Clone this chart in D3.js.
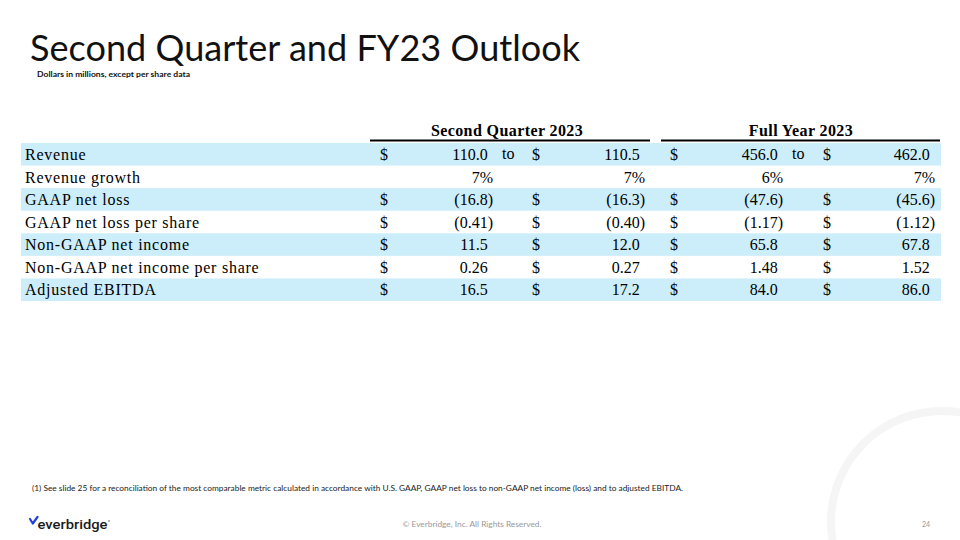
<!DOCTYPE html>
<html>
<head>
<meta charset="utf-8">
<script src="https://cdn.jsdelivr.net/npm/d3@7"></script>
<style>
  html, body { margin: 0; padding: 0; background: #fff; }
  svg { display: block; }
</style>
</head>
<body>
<svg id="chart" width="960" height="540"></svg>
<script>
// ---------------- DATA ----------------
const title = "Second Quarter and FY23 Outlook";
const subtitle = "Dollars in millions, except per share data";
const groupHeaders = ["Second Quarter 2023", "Full Year 2023"];
const rowLabels = [
  "Revenue",
  "Revenue growth",
  "GAAP net loss",
  "GAAP net loss per share",
  "Non-GAAP net income",
  "Non-GAAP net income per share",
  "Adjusted EBITDA"
];
const rowFormats = ["money1", "pct", "money1", "money2", "money1", "money2", "money1"];
const q2Low  = [110.0, 0.07, -16.8, -0.41, 11.5, 0.26, 16.5];
const q2High = [110.5, 0.07, -16.3, -0.40, 12.0, 0.27, 17.2];
const fyLow  = [456.0, 0.06, -47.6, -1.17, 65.8, 1.48, 84.0];
const fyHigh = [462.0, 0.07, -45.6, -1.12, 67.8, 1.52, 86.0];
const rangeWord = "to";
const footnote = "(1) See slide 25 for a reconciliation of the most comparable metric calculated in accordance with U.S. GAAP, GAAP net loss to non-GAAP net income (loss) and to adjusted EBITDA.";
const copyright = "© Everbridge, Inc. All Rights Reserved.";
const pageNumber = "24";
const brand = "everbridge";

// ---------------- RENDER ----------------
const svg = d3.select("#chart");
const W = 960, H = 540;
svg.append("rect").attr("width", W).attr("height", H).attr("fill", "#ffffff");

// decorative ring bottom-right
svg.append("circle")
  .attr("cx", 942).attr("cy", 522).attr("r", 111)
  .attr("fill", "none").attr("stroke", "#f5f5f5").attr("stroke-width", 8);

// title
svg.append("text")
  .attr("x", 30).attr("y", 61)
  .attr("font-family", "Lato, 'Open Sans', sans-serif")
  .attr("font-size", 37)
  .attr("fill", "#111")
  .attr("textLength", 550).attr("lengthAdjust", "spacingAndGlyphs")
  .text(title);

svg.append("text")
  .attr("x", 37).attr("y", 76.5)
  .attr("font-family", "Lato, 'Open Sans', sans-serif")
  .attr("font-size", 8).attr("font-weight", "bold")
  .attr("fill", "#111")
  .attr("textLength", 153).attr("lengthAdjust", "spacingAndGlyphs")
  .text(subtitle);

// table
const serif = "'Liberation Serif', 'Times New Roman', Times, serif";
const y = d3.scaleBand().domain(d3.range(rowLabels.length)).range([143, 301]).paddingInner(0);
const tableLeft = 21, tableRight = 941;

// column layout: dollar sign x, value right edge
const columns = [
  { values: q2Low,  dollar: 380, edge: 493, to: 502 },
  { values: q2High, dollar: 532, edge: 645 },
  { values: fyLow,  dollar: 670, edge: 783, to: 792 },
  { values: fyHigh, dollar: 823, edge: 935 }
];

const fmt1 = d3.format(".1f"), fmt2 = d3.format(".2f"), fmtPct = d3.format(".0%");
function formatValue(v, kind) {
  if (kind === "pct") return fmtPct(v);
  const f = kind === "money2" ? fmt2 : fmt1;
  return v < 0 ? "(" + f(-v) + ")" : f(v);
}

// bands
svg.append("g").selectAll("rect")
  .data(rowLabels.map((d, i) => i).filter(i => i % 2 === 0))
  .join("rect")
  .attr("x", tableLeft).attr("width", tableRight - tableLeft)
  .attr("y", i => y(i)).attr("height", y.bandwidth())
  .attr("fill", "#ccedfa");

// group headers
const headerCenters = [507, 801];
const headerLines = [[370, 650], [661, 940]];
svg.append("g").selectAll("text")
  .data(groupHeaders)
  .join("text")
  .attr("x", (d, i) => headerCenters[i]).attr("y", 136)
  .attr("text-anchor", "middle")
  .attr("font-family", serif).attr("font-size", 16).attr("font-weight", "bold")
  .attr("letter-spacing", 0.4)
  .attr("fill", "#000")
  .text(d => d);
svg.append("g").selectAll("line")
  .data(headerLines)
  .join("line")
  .attr("x1", d => d[0]).attr("x2", d => d[1])
  .attr("y1", 140.5).attr("y2", 140.5)
  .attr("stroke", "#000").attr("stroke-width", 2);

// row labels
const textY = i => y(i) + 17;
svg.append("g").selectAll("text")
  .data(rowLabels)
  .join("text")
  .attr("x", 25).attr("y", (d, i) => textY(i))
  .attr("font-family", serif).attr("font-size", 16)
  .attr("letter-spacing", 0.75)
  .attr("fill", "#000")
  .text(d => d);

// values
columns.forEach(col => {
  const g = svg.append("g");
  rowLabels.forEach((lab, i) => {
    const kind = rowFormats[i];
    if (kind !== "pct") {
      g.append("text")
        .attr("x", col.dollar).attr("y", textY(i))
        .attr("font-family", serif).attr("font-size", 16).attr("fill", "#000")
        .text("$");
    }
    const v = col.values[i];
    const s = formatValue(v, kind);
    const padded = kind !== "pct" && v >= 0;
    g.append("text")
      .attr("x", col.edge - (padded ? 5.3 : 0)).attr("y", textY(i))
      .attr("text-anchor", "end")
      .attr("font-family", serif).attr("font-size", 16).attr("fill", "#000")
      .text(s);
    if (i === 0 && col.to !== undefined) {
      g.append("text")
        .attr("x", col.to).attr("y", textY(i) - 1)
        .attr("font-family", serif).attr("font-size", 16).attr("fill", "#000")
        .text(rangeWord);
    }
  });
});

// footnote
svg.append("text")
  .attr("x", 32).attr("y", 491)
  .attr("font-family", "Lato, 'Open Sans', sans-serif")
  .attr("font-size", 7.5).attr("fill", "#222")
  .attr("textLength", 651).attr("lengthAdjust", "spacingAndGlyphs")
  .text(footnote);

// logo
svg.append("path")
  .attr("d", "M30,519 L32.8,523.5 L37.5,517")
  .attr("fill", "none").attr("stroke", "#1f3fd8").attr("stroke-width", 2.2)
  .attr("stroke-linecap", "round").attr("stroke-linejoin", "round");
svg.append("text")
  .attr("x", 37.5).attr("y", 528.5)
  .attr("font-family", "Roboto, 'Open Sans', sans-serif")
  .attr("font-size", 13.5).attr("font-weight", 500)
  .attr("fill", "#1a1a1a")
  .attr("textLength", 70).attr("lengthAdjust", "spacingAndGlyphs")
  .text(brand);
svg.append("circle").attr("cx", 109).attr("cy", 521).attr("r", 0.8).attr("fill", "#555");

// copyright & page number
svg.append("text")
  .attr("x", 472).attr("y", 527)
  .attr("text-anchor", "middle")
  .attr("font-family", "Lato, 'Open Sans', sans-serif")
  .attr("font-size", 7).attr("fill", "#999")
  .attr("textLength", 139).attr("lengthAdjust", "spacingAndGlyphs")
  .text(copyright);
svg.append("text")
  .attr("x", 926).attr("y", 527)
  .attr("text-anchor", "middle")
  .attr("font-family", "Lato, 'Open Sans', sans-serif")
  .attr("font-size", 7).attr("fill", "#999")
  .text(pageNumber);
</script>
</body>
</html>
